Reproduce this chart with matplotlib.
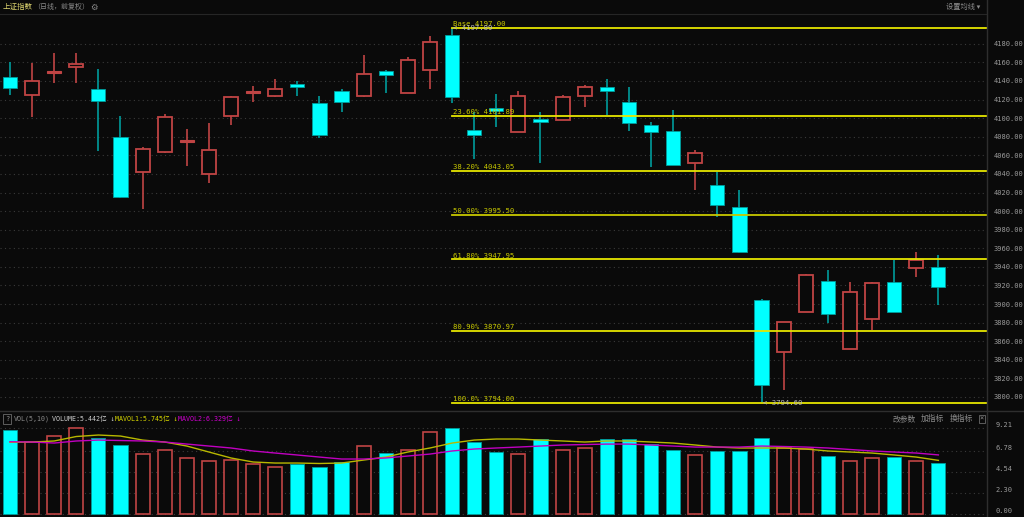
import numpy as np
import matplotlib
matplotlib.use("Agg")
import matplotlib.pyplot as plt
from matplotlib.patches import Rectangle

plt.rcParams['font.family'] = ['Noto Sans CJK SC', 'DejaVu Sans']

# daily candles (open, high, low, close)
opens = [4144.2, 4124.8, 4149.5, 4155.2, 4131.9, 4079.6, 4042.5, 4064.1, 4074.5, 4039.7,
         4102.8, 4127.5, 4124.0, 4137.0, 4116.2, 4129.4, 4123.3, 4150.9, 4127.6, 4151.3,
         4189.7, 4087.4, 4110.0, 4085.6, 4098.9, 4097.9, 4123.3, 4133.4, 4117.2, 4092.1,
         4086.0, 4052.2, 4028.2, 4004.2, 3904.4, 3848.5, 3891.8, 3924.6, 3851.4, 3883.7,
         3923.8, 3938.9, 3940.3]
highs = [4160.9, 4159.2, 4170.3, 4170.3, 4152.8, 4102.8, 4069.1, 4104.7, 4088.5, 4094.6,
         4124.0, 4134.8, 4142.3, 4140.2, 4124.0, 4131.6, 4167.8, 4152.0, 4166.3, 4188.6,
         4197.0, 4106.1, 4126.2, 4129.4, 4106.8, 4124.4, 4135.9, 4142.0, 4133.7, 4096.0,
         4109.0, 4065.9, 4041.9, 4022.5, 3905.8, 3880.4, 3932.7, 3936.7, 3923.8, 3923.5,
         3947.5, 3955.8, 3952.6]
lows = [4124.8, 4101.7, 4138.0, 4138.3, 4065.1, 4014.2, 4002.7, 4063.0, 4049.0, 4030.1,
        4092.8, 4117.2, 4123.0, 4124.0, 4079.1, 4106.1, 4123.0, 4127.3, 4127.3, 4131.2,
        4116.2, 4055.9, 4091.0, 4085.6, 4052.2, 4097.9, 4112.5, 4103.6, 4086.7, 4047.9,
        4049.4, 4022.8, 3994.1, 3955.4, 3794.6, 3807.9, 3891.8, 3880.0, 3851.4, 3872.2,
        3891.5, 3929.5, 3899.4]
closes = [4132.6, 4139.8, 4150.5, 4158.1, 4118.3, 4015.6, 4067.3, 4101.7, 4076.0, 4065.6,
          4123.0, 4128.5, 4131.6, 4133.7, 4082.0, 4117.2, 4147.4, 4146.6, 4162.8, 4182.2,
          4122.6, 4082.0, 4108.2, 4124.0, 4096.4, 4123.0, 4133.4, 4129.4, 4095.3, 4085.0,
          4049.4, 4062.3, 4006.4, 3956.4, 3813.3, 3880.4, 3931.3, 3889.1, 3913.0, 3922.7,
          3891.5, 3947.5, 3918.8]

# volume (100 million) and its moving averages
volume = [9.0, 7.68, 8.35, 9.17, 8.1, 7.42, 6.42, 6.82, 6.03, 5.64,
          5.78, 5.32, 5.03, 5.35, 5.03, 5.57, 7.28, 6.53, 6.85, 8.78,
          9.21, 7.71, 6.64, 6.42, 8.03, 6.85, 7.07, 8.03, 8.03, 7.5,
          6.85, 6.32, 6.75, 6.75, 8.14, 7.07, 6.96, 6.21, 5.67, 6.0,
          6.13, 5.67, 5.442]
mavol1 = [7.68, 7.71, 7.82, 8.30, 8.46, 8.35, 7.92, 7.71, 7.28, 6.64,
          6.0, 5.57, 5.46, 5.46, 5.41, 5.46, 5.78, 6.10, 6.64, 7.07,
          7.60, 7.92, 8.03, 8.03, 7.92, 7.82, 7.71, 7.82, 7.82, 7.71,
          7.60, 7.39, 7.17, 7.07, 7.07, 7.07, 6.96, 6.75, 6.64, 6.53,
          6.32, 6.10, 5.745]
mavol2 = [7.74, 7.71, 7.60, 7.82, 7.92, 7.87, 7.82, 7.71, 7.49, 7.28,
          7.07, 6.75, 6.53, 6.32, 6.10, 5.89, 5.89, 6.0, 6.21, 6.42,
          6.75, 6.96, 7.07, 7.17, 7.28, 7.39, 7.44, 7.49, 7.49, 7.39,
          7.28, 7.17, 7.17, 7.17, 7.28, 7.23, 7.17, 7.07, 6.91, 6.75,
          6.64, 6.53, 6.329]

# fibonacci levels
fib_names = ["Base", "23.60%", "38.20%", "50.00%", "61.80%", "80.90%", "100.0%"]
fib_values = [4197.00, 4101.89, 4043.05, 3995.50, 3947.95, 3870.97, 3794.00]
fib_start = 20
high_mark = 4197.89

price_ticks = list(range(3800, 4181, 20))
vol_ticks = [0.00, 2.30, 4.54, 6.78, 9.21]

BG = "#0a0a0a"
RED = "#c04444"
CYAN = "#00ffff"
CYAN_WICK = "#009c9c"
FIB = "#e6e600"
GRID = "#3a3a3a"
TXT = "#9a9a9a"
MONO = "DejaVu Sans Mono"

fig = plt.figure(figsize=(10.24, 5.17), dpi=100, facecolor=BG)
ax = fig.add_axes([0, 0.207, 0.9639, 0.764], facecolor=BG)
axv = fig.add_axes([0, 0, 0.9639, 0.203], facecolor=BG)

x = np.arange(len(opens))
xlim = (-0.45, 44.2)
width = 0.64

# ---- price panel
for t in price_ticks:
    ax.axhline(t, color=GRID, lw=0.8, ls=(0, (1, 3)), zorder=0)

up = [c >= o for o, c in zip(opens, closes)]
for i in x:
    o, h, l, c = opens[i], highs[i], lows[i], closes[i]
    if up[i]:
        ax.vlines(i, l, h, color=RED, lw=1.2, zorder=2)
        lo, hi = min(o, c), max(o, c)
        if hi - lo < 2.5:
            ax.add_patch(Rectangle((i - width / 2, lo - 0.6), width, hi - lo + 1.2,
                                   facecolor=RED, edgecolor=RED, lw=0.8, zorder=3))
        else:
            ax.add_patch(Rectangle((i - width / 2, lo), width, hi - lo,
                                   facecolor=BG, edgecolor=RED, lw=1.3, zorder=3))
    else:
        ax.vlines(i, l, h, color=CYAN_WICK, lw=1.2, zorder=2)
        hgt = max(o - c, 2.2)
        ax.add_patch(Rectangle((i - width / 2, c), width, hgt,
                               facecolor=CYAN, edgecolor=CYAN_WICK, lw=0.6, zorder=3))

for name, val in zip(fib_names, fib_values):
    col = FIB if name != "50.00%" else "#c8c800"
    ax.plot([fib_start, xlim[1]], [val, val], color=col, lw=1.3, zorder=4)
    ax.text(fib_start + 0.05, val + 1.0, f"{name} {val:.2f}", color="#c8c800",
            fontsize=5.2, family=MONO, va="bottom", ha="left", zorder=5)

i_hi = int(np.argmax(highs))
i_lo = int(np.argmin(lows))
ax.text(i_hi + 0.05, highs[i_hi] - 0.5, f"< {high_mark:.2f}", color="#b8b8b8", fontsize=5.2,
        family=MONO, va="center", ha="left", zorder=6)
ax.text(i_lo + 0.05, lows[i_lo] - 1.5, f"< {lows[i_lo]:.2f}", color="#b8b8b8", fontsize=5.2,
        family=MONO, va="center", ha="left", zorder=6)

ax.set_xlim(*xlim)
ax.set_ylim(3786, 4211)
ax.set_yticks(price_ticks)
ax.set_yticklabels([f"{t:.2f}" for t in price_ticks], family=MONO)
ax.yaxis.tick_right()
ax.tick_params(axis="y", length=0, pad=5, labelsize=5, labelcolor=TXT)
ax.set_xticks([])
for s in ax.spines.values():
    s.set_visible(False)

# ---- volume panel
for t in vol_ticks:
    axv.axhline(t, color=GRID, lw=0.8, ls=(0, (1, 3)), zorder=0)
vol_up = np.array(up)
vol = np.array(volume)
axv.bar(x[vol_up], vol[vol_up], width=width,
        facecolor=BG, edgecolor=RED, lw=1.2, zorder=2)
axv.bar(x[~vol_up], vol[~vol_up], width=width,
        facecolor=CYAN, edgecolor=CYAN_WICK, lw=0.6, zorder=2)
axv.plot(x, mavol1, color="#b8b800", lw=1.0, zorder=3)
axv.plot(x, mavol2, color="#c000c0", lw=1.0, zorder=3)
axv.set_xlim(*xlim)
axv.set_ylim(-0.32, 10.92)
axv.set_yticks(vol_ticks)
axv.set_yticklabels([f"{t:.2f}" for t in vol_ticks], family=MONO)
axv.yaxis.tick_right()
axv.tick_params(axis="y", length=0, pad=6, labelsize=5, labelcolor=TXT)
for lab in axv.get_yticklabels():
    lab.set_verticalalignment("bottom")
axv.set_xticks([])
for s in axv.spines.values():
    s.set_visible(False)

# ---- frame lines and headers
fig.add_artist(plt.Line2D([0, 0.9639], [1 - 14 / 517, 1 - 14 / 517], color="#262626", lw=0.8))
fig.add_artist(plt.Line2D([0, 1], [1 - 411 / 517, 1 - 411 / 517], color="#2e2e2e", lw=1.0))
fig.add_artist(plt.Line2D([987 / 1024, 987 / 1024], [0, 1], color="#2e2e2e", lw=1.0))


def fx(px):
    return px / 1024


def fy(py):
    return 1 - py / 517


fig.text(fx(3), fy(7), "上证指数", color="#e0d870", fontsize=5.4, va="center")
fig.text(fx(33), fy(7), "（日线，前复权）", color="#8a8a8a", fontsize=5.0, va="center")
fig.text(fx(94), fy(7), "⚙", color="#8a8a8a", fontsize=6, va="center", ha="center",
         family=["DejaVu Sans"])
fig.text(fx(946), fy(7), "设置均线 ▾", color="#8a8a8a", fontsize=5.2, va="center",
         family=["Noto Sans CJK SC", "DejaVu Sans"])

hy = fy(419)
fig.text(fx(7), hy, "?", color="#8a8a8a", fontsize=5, va="center", ha="center",
         family=MONO, bbox=dict(boxstyle="square,pad=0.25", fc=BG, ec="#6a6a6a", lw=0.6))
fig.text(fx(14), hy, "VOL(5,10)", color="#8a8a8a", fontsize=4.8, va="center", family=MONO)
fig.text(fx(52), hy, f"VOLUME:{volume[-1]:.3f}亿 ↓", color="#d0d0d0", fontsize=4.8,
         va="center", family=[MONO, "Noto Sans CJK SC"])
fig.text(fx(115), hy, f"MAVOL1:{mavol1[-1]:.3f}亿 ↓", color="#d8d800", fontsize=4.8,
         va="center", family=[MONO, "Noto Sans CJK SC"])
fig.text(fx(178), hy, f"MAVOL2:{mavol2[-1]:.3f}亿 ↓", color="#d000d0", fontsize=4.8,
         va="center", family=[MONO, "Noto Sans CJK SC"])
for px, lab in [(893, "改参数"), (921, "加指标"), (950, "换指标")]:
    fig.text(fx(px), hy, lab, color="#8a8a8a", fontsize=5.6, va="center")
fig.text(fx(982), hy, "×", color="#8a8a8a", fontsize=5, va="center", ha="center",
         family=MONO, bbox=dict(boxstyle="square,pad=0.15", fc=BG, ec="#6a6a6a", lw=0.6))

fig.savefig("out.png", dpi=100, facecolor=BG)
